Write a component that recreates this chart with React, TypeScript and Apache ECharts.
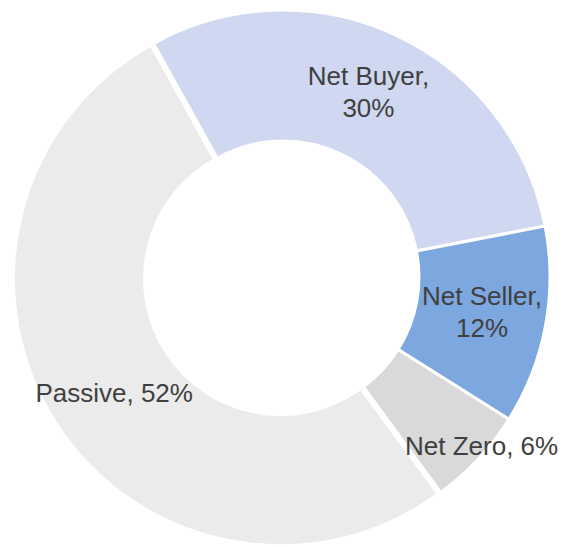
import React, { useEffect, useRef } from "react";
import * as echarts from "echarts";

const categories = ["Net Buyer", "Net Seller", "Net Zero", "Passive"];
const values = [30, 12, 6, 52];
const colors = ["#CFD8F0", "#7DA7DF", "#D9D9D9", "#EBEBEB"];
const twoLine = [true, true, false, false];
const labelShift = [
  [-1, 0],
  [-2, -3],
  [49, 30],
  [6, 4],
];

export default function App() {
  const ref = useRef<HTMLDivElement>(null);
  useEffect(() => {
    document.body.style.margin = "0";
    const chart = echarts.init(ref.current!, null, { renderer: "svg" });
    chart.setOption({
      animation: false,
      backgroundColor: "#ffffff",
      series: [
        {
          type: "pie",
          center: [283, 277],
          radius: [136, 267],
          startAngle: 119,
          clockwise: true,
          selectedMode: "single",
          selectedOffset: 3,
          itemStyle: { borderColor: "#ffffff", borderWidth: 3 },
          label: {
            show: true,
            position: "inside",
            color: "#404040",
            fontSize: 26,
            fontFamily: "Liberation Sans, Arial, sans-serif",
            lineHeight: 32,
            align: "center",
          },
          labelLayout: (p: any) => ({
            dx: labelShift[p.dataIndex][0],
            dy: labelShift[p.dataIndex][1],
          }),
          emphasis: { disabled: true },
          data: categories.map((c, i) => ({
            name: c,
            value: values[i],
            selected: c === "Passive",
            itemStyle: { color: colors[i] },
            label: {
              formatter: twoLine[i] ? "{b},\n{c}%" : "{b}, {c}%",
            },
          })),
        },
      ],
    });
    return () => chart.dispose();
  }, []);
  return <div ref={ref} style={{ width: 565, height: 547 }} />;
}
